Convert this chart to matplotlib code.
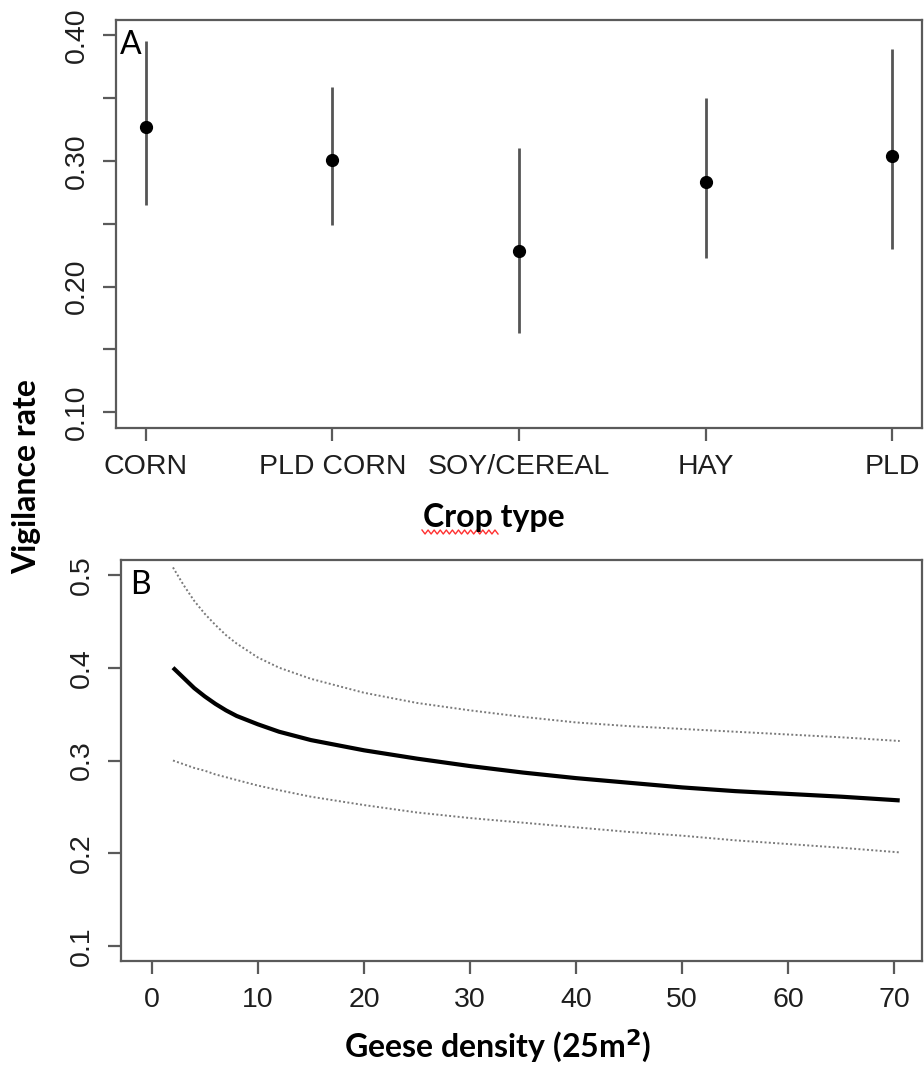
import numpy as np
import matplotlib
matplotlib.use("Agg")
import matplotlib.pyplot as plt

# ---- data ----
crop_types = ["CORN", "PLD CORN", "SOY/CEREAL", "HAY", "PLD"]
vig_mean = [0.327, 0.301, 0.228, 0.283, 0.304]
vig_lo = [0.265, 0.249, 0.163, 0.223, 0.230]
vig_hi = [0.395, 0.359, 0.310, 0.350, 0.389]
ytick_a = [0.10, 0.15, 0.20, 0.25, 0.30, 0.35, 0.40]
ytick_a_labels = ["0.10", "", "0.20", "", "0.30", "", "0.40"]

density = [2, 3, 4, 5, 6, 7, 8, 10, 12, 15, 20, 25, 30, 35, 40, 45, 50,
           55, 60, 65, 70.5]
fit_mean = [0.400, 0.389, 0.378, 0.369, 0.361, 0.354, 0.348, 0.339, 0.331,
            0.322, 0.311, 0.302, 0.294, 0.287, 0.281, 0.276, 0.271, 0.267,
            0.264, 0.261, 0.257]
fit_upper = [0.508, 0.489, 0.472, 0.458, 0.446, 0.435, 0.426, 0.411, 0.400,
             0.388, 0.373, 0.362, 0.354, 0.347, 0.341, 0.337, 0.334, 0.331,
             0.328, 0.325, 0.321]
fit_lower = [0.300, 0.296, 0.292, 0.289, 0.285, 0.282, 0.279, 0.273, 0.268,
             0.261, 0.252, 0.244, 0.238, 0.233, 0.228, 0.223, 0.219, 0.214,
             0.210, 0.206, 0.201]
xtick_b = [0, 10, 20, 30, 40, 50, 60, 70]
ytick_b = [0.1, 0.2, 0.3, 0.4, 0.5]

W, H = 924, 1069
fig = plt.figure(figsize=(W / 100, H / 100), dpi=100)

spine_c = "#5a5a5a"
tick_c = "#1e1e1e"
tick_font = "Liberation Sans"
lab_font = "Lato"


def fx(px):
    return px / W


def fy(py):
    return 1 - py / H


def style(ax):
    for s in ax.spines.values():
        s.set_color(spine_c)
        s.set_linewidth(1.6)
    ax.tick_params(direction="out", length=9.5, width=1.6, color=spine_c,
                   labelsize=20.5, labelcolor=tick_c, pad=9)
    for lab in ax.get_xticklabels() + ax.get_yticklabels():
        lab.set_fontfamily(tick_font)


# ---- panel A ----
axA = fig.add_axes([fx(116), fy(428), fx(922 - 116), (428 - 20) / H])
xs = np.arange(len(crop_types))
axA.vlines(xs, vig_lo, vig_hi, color="#555555", linewidth=2.0, zorder=2)
axA.plot(xs, vig_mean, "o", color="black", markersize=8.5, zorder=3)
axA.set_xlim(-0.16, 4.16)
axA.set_ylim(0.0875, 0.412)
axA.set_xticks(xs)
axA.set_xticklabels(crop_types)
axA.set_yticks(ytick_a)
axA.set_yticklabels(ytick_a_labels, rotation=90, va="center")
style(axA)
axA.text(0.005, 0.975, "A", transform=axA.transAxes, ha="left", va="top",
         fontsize=23, family=lab_font, color="black")

# ---- panel B ----
axB = fig.add_axes([fx(121), fy(961), fx(922 - 121), (961 - 560) / H])
axB.plot(density, fit_upper, color="#7a7a7a", linewidth=1.4,
         linestyle=(0, (1, 1.2)))
axB.plot(density, fit_lower, color="#7a7a7a", linewidth=1.4,
         linestyle=(0, (1, 1.2)))
axB.plot(density, fit_mean, color="black", linewidth=3.0,
         solid_capstyle="butt", solid_joinstyle="round")
axB.set_xlim(-2.9, 72.6)
axB.set_ylim(0.084, 0.516)
axB.set_xticks(xtick_b)
axB.set_xticklabels([str(v) for v in xtick_b])
axB.set_yticks(ytick_b)
axB.set_yticklabels([f"{v:.1f}" for v in ytick_b], rotation=90, va="center")
style(axB)
axB.text(0.012, 0.975, "B", transform=axB.transAxes, ha="left", va="top",
         fontsize=23, family=lab_font, color="black")

# ---- axis labels ----
fig.text(fx(494), fy(518), "Crop type", ha="center", va="center",
         fontsize=23, fontweight="bold", family=lab_font, color="black")
fig.text(fx(27), fy(477), "Vigilance rate", ha="center", va="center",
         rotation=90, fontsize=23, fontweight="bold", family=lab_font,
         color="black")
fig.text(fx(498), fy(1046), "Geese density (25m$^{\\mathbf{2}}$)", ha="center",
         va="center", fontsize=23, fontweight="bold", family=lab_font,
         color="black")

# spell-check squiggle under "Crop"
n = 26
sx = np.linspace(422, 498, n)
sy = 532 + 2.0 * np.where(np.arange(n) % 2 == 0, -1, 1)
fig.add_artist(plt.Line2D(fx(sx), fy(sy), color="#ff3030", linewidth=1.0,
                          transform=fig.transFigure))

fig.savefig("out.png", dpi=100)
